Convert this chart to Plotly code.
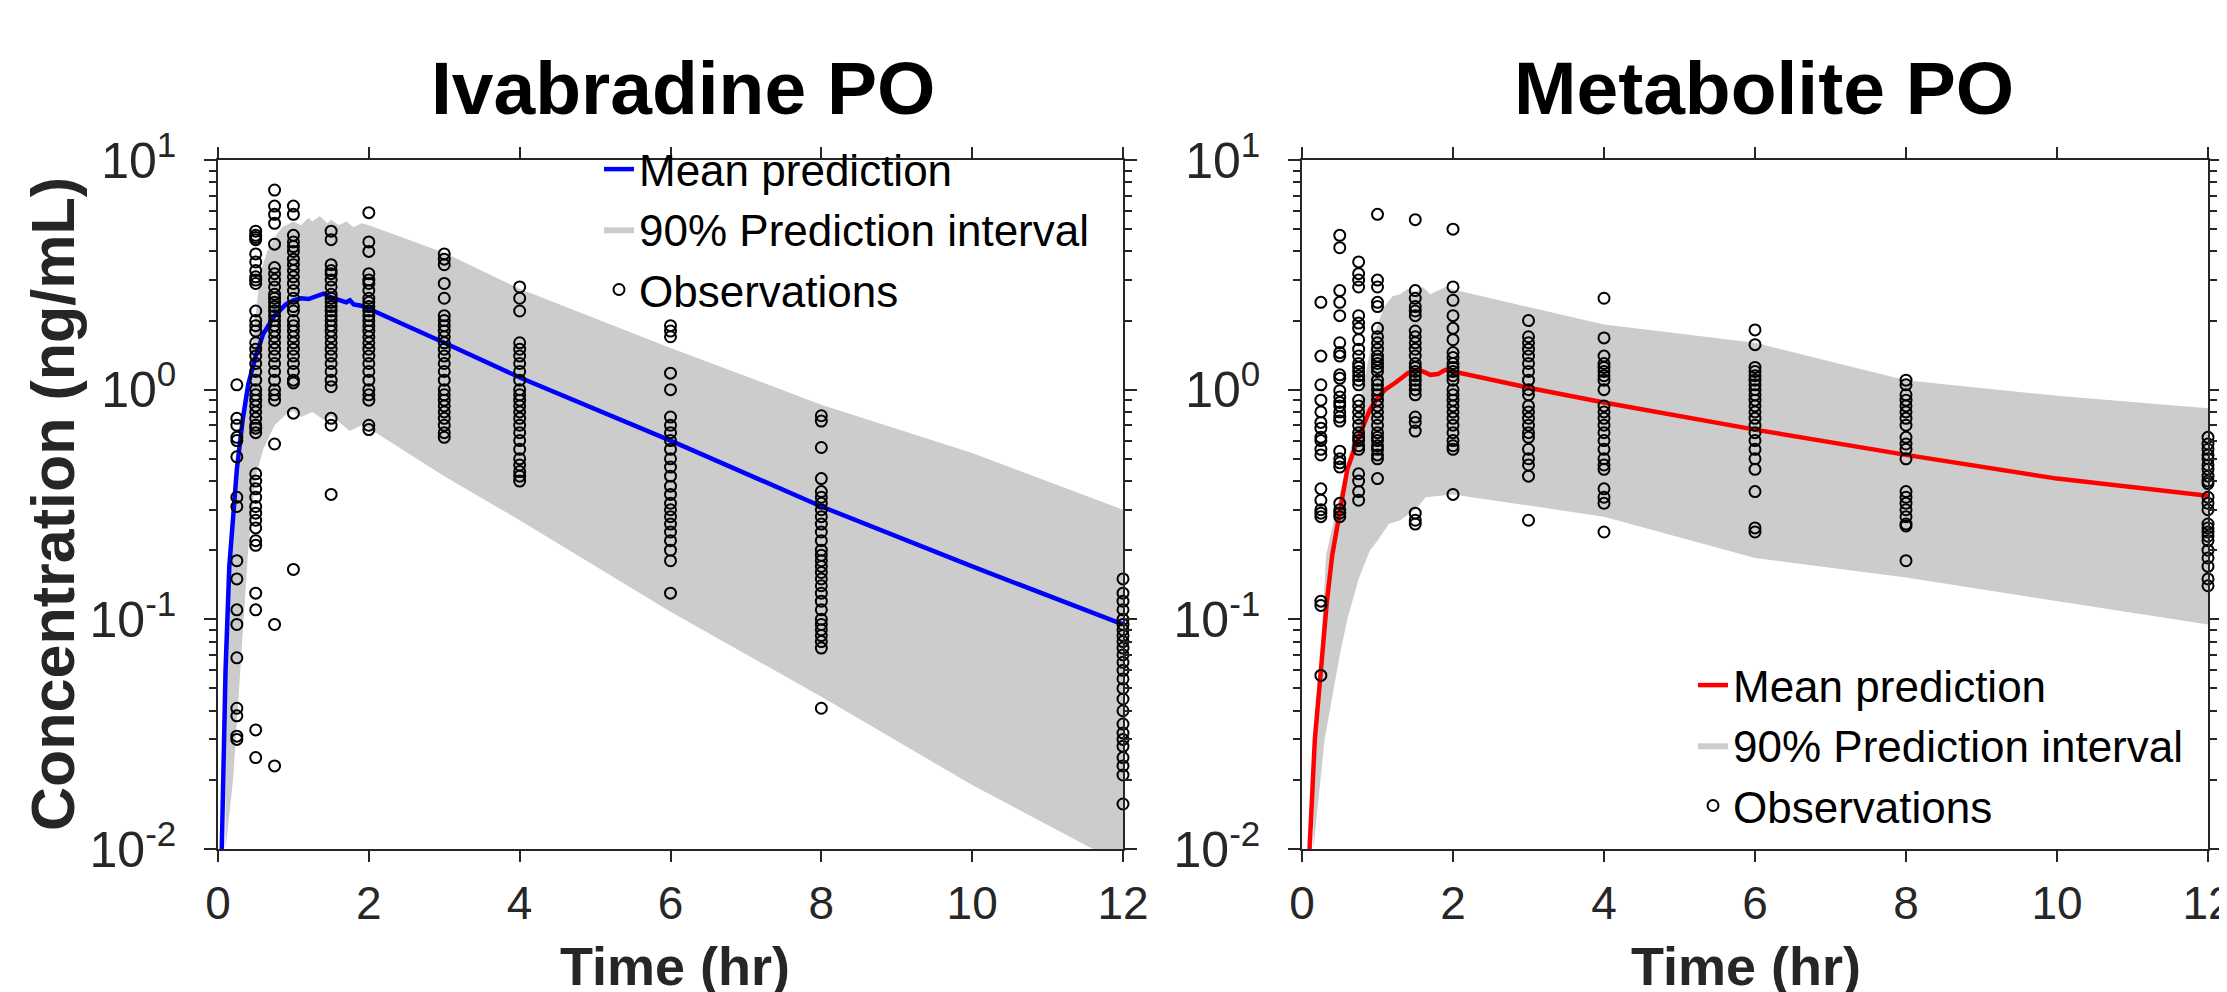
import plotly.graph_objects as go

# ---------------- data ----------------
OBS_TIMES = [0.25, 0.5, 0.75, 1.0, 1.5, 2.0, 3.0, 4.0, 6.0, 8.0, 12.0]

IVA_OBS_T0_25 = [1.05, 0.75, 0.70, 0.62, 0.60, 0.51, 0.34, 0.31, 0.18, 0.15, 0.11, 0.095, 0.068, 0.041, 0.038, 0.031, 0.030]
IVA_OBS_T0_5 = [4.9, 4.7, 4.6, 4.5, 3.9, 3.6, 3.3, 3.1, 3.0, 2.9, 2.2, 2.0, 1.9, 1.8, 1.6, 1.5, 1.4, 1.3, 1.2, 1.1, 1.0,
                0.95, 0.9, 0.85, 0.8, 0.75, 0.7, 0.68, 0.65, 0.43, 0.40, 0.37, 0.34, 0.31, 0.29, 0.27, 0.25, 0.22,
                0.21, 0.13, 0.11, 0.033, 0.025]
IVA_OBS_T0_75 = [7.4, 6.3, 5.8, 5.3, 4.3, 3.4, 3.2, 3.0, 2.8, 2.6, 2.5, 2.4, 2.3, 2.2, 2.1, 2.0, 1.9, 1.8, 1.7, 1.6,
                 1.5, 1.4, 1.3, 1.2, 1.1, 1.0, 0.95, 0.9, 0.58, 0.095, 0.023]
IVA_OBS_T1 = [6.3, 5.8, 4.7, 4.4, 4.2, 4.0, 3.7, 3.5, 3.3, 3.1, 2.9, 2.7, 2.5, 2.3, 2.2, 2.0, 1.9, 1.8, 1.7, 1.6,
              1.5, 1.4, 1.3, 1.2, 1.1, 1.07, 0.79, 0.165]
IVA_OBS_T1_5 = [4.9, 4.5, 3.5, 3.3, 3.2, 3.0, 2.8, 2.6, 2.5, 2.4, 2.3, 2.2, 2.1, 2.0, 1.9, 1.8, 1.7, 1.6, 1.5, 1.4,
                1.3, 1.2, 1.1, 1.03, 0.75, 0.70, 0.35]
IVA_OBS_T2 = [5.9, 4.4, 4.0, 3.2, 3.0, 2.9, 2.7, 2.5, 2.4, 2.3, 2.2, 2.1, 2.0, 1.9, 1.8, 1.7, 1.6, 1.5, 1.4, 1.3,
              1.2, 1.1, 1.0, 0.95, 0.9, 0.70, 0.67]
IVA_OBS_T3 = [3.9, 3.7, 3.5, 2.9, 2.5, 2.1, 2.0, 1.9, 1.8, 1.7, 1.6, 1.5, 1.4, 1.3, 1.2, 1.1, 1.0, 0.95, 0.9, 0.85,
              0.8, 0.75, 0.7, 0.65, 0.62]
IVA_OBS_T4 = [2.8, 2.5, 2.2, 1.6, 1.5, 1.4, 1.3, 1.2, 1.1, 1.0, 0.95, 0.9, 0.85, 0.8, 0.75, 0.7, 0.65, 0.6, 0.55,
              0.5, 0.47, 0.44, 0.42, 0.40]
IVA_OBS_T6 = [1.9, 1.8, 1.7, 1.18, 1.0, 0.76, 0.7, 0.65, 0.6, 0.55, 0.5, 0.46, 0.42, 0.38, 0.35, 0.32, 0.3, 0.28,
              0.26, 0.24, 0.22, 0.2, 0.18, 0.13]
IVA_OBS_T8 = [0.77, 0.73, 0.56, 0.41, 0.36, 0.34, 0.32, 0.3, 0.28, 0.26, 0.24, 0.22, 0.2, 0.19, 0.18, 0.17, 0.16,
              0.15, 0.14, 0.13, 0.12, 0.11, 0.1, 0.095, 0.09, 0.085, 0.08, 0.075, 0.041]
IVA_OBS_T12 = [0.15, 0.13, 0.12, 0.11, 0.1, 0.095, 0.09, 0.085, 0.08, 0.075, 0.07, 0.065, 0.06, 0.055, 0.05, 0.045,
               0.04, 0.035, 0.032, 0.03, 0.028, 0.025, 0.023, 0.021, 0.0157]

MET_OBS_T0_25 = [2.4, 1.4, 1.05, 0.9, 0.8, 0.72, 0.68, 0.62, 0.6, 0.55, 0.52, 0.37, 0.33, 0.3, 0.29, 0.28, 0.12,
                 0.115, 0.057]
MET_OBS_T0_5 = [4.7, 4.15, 2.7, 2.4, 2.1, 1.6, 1.45, 1.4, 1.16, 1.12, 0.99, 0.93, 0.88, 0.85, 0.8, 0.76, 0.73, 0.54,
                0.5, 0.48, 0.46, 0.32, 0.3, 0.29, 0.28]
MET_OBS_T0_75 = [3.6, 3.2, 3.0, 2.8, 2.1, 1.95, 1.85, 1.65, 1.5, 1.4, 1.3, 1.25, 1.2, 1.15, 1.1, 1.05, 0.9, 0.85,
                 0.8, 0.75, 0.7, 0.65, 0.62, 0.6, 0.57, 0.55, 0.43, 0.4, 0.36, 0.33]
MET_OBS_T1 = [5.8, 3.0, 2.8, 2.4, 2.3, 1.85, 1.7, 1.6, 1.5, 1.4, 1.35, 1.3, 1.25, 1.2, 1.1, 1.05, 1.0, 0.95, 0.9,
              0.85, 0.8, 0.75, 0.7, 0.65, 0.62, 0.6, 0.57, 0.55, 0.52, 0.5, 0.41]
MET_OBS_T1_5 = [5.5, 2.7, 2.5, 2.3, 2.2, 2.1, 1.8, 1.7, 1.6, 1.5, 1.4, 1.3, 1.25, 1.2, 1.15, 1.1, 1.05, 1.0, 0.95,
                0.76, 0.72, 0.66, 0.29, 0.27, 0.26]
MET_OBS_T2 = [5.0, 2.8, 2.45, 2.1, 1.85, 1.65, 1.45, 1.38, 1.3, 1.25, 1.2, 1.15, 1.1, 1.0, 0.95, 0.9, 0.85, 0.8,
              0.75, 0.7, 0.65, 0.6, 0.57, 0.55, 0.35]
MET_OBS_T3 = [2.0, 1.7, 1.6, 1.5, 1.4, 1.3, 1.2, 1.1, 1.0, 0.95, 0.85, 0.8, 0.75, 0.7, 0.65, 0.62, 0.55, 0.5, 0.47,
              0.42, 0.27]
MET_OBS_T4 = [2.5, 1.68, 1.4, 1.3, 1.25, 1.2, 1.15, 1.1, 1.0, 0.85, 0.8, 0.75, 0.7, 0.65, 0.6, 0.55, 0.5, 0.47,
              0.45, 0.37, 0.34, 0.32, 0.24]
MET_OBS_T6 = [1.82, 1.57, 1.25, 1.2, 1.15, 1.1, 1.05, 1.0, 0.95, 0.9, 0.85, 0.8, 0.75, 0.7, 0.65, 0.6, 0.55, 0.5,
              0.45, 0.36, 0.25, 0.24]
MET_OBS_T8 = [1.1, 1.05, 0.95, 0.9, 0.85, 0.8, 0.75, 0.7, 0.62, 0.58, 0.55, 0.5, 0.36, 0.34, 0.32, 0.3, 0.28, 0.26,
              0.255, 0.18]
MET_OBS_T12 = [0.62, 0.58, 0.55, 0.52, 0.5, 0.47, 0.45, 0.42, 0.4, 0.39, 0.34, 0.32, 0.3, 0.26, 0.25, 0.24, 0.23,
               0.22, 0.2, 0.185, 0.17, 0.15, 0.14]

# mean prediction curves
IVA_MEAN_T = [0.05, 0.1, 0.15, 0.2, 0.25, 0.33, 0.4, 0.5, 0.6, 0.75, 0.9, 1.0, 1.1, 1.2, 1.3, 1.4, 1.5, 1.6, 1.7,
              1.75, 1.8, 1.9, 2.0, 3.0, 4.0, 6.0, 8.0, 10.0, 12.0]
IVA_MEAN = [0.01, 0.06, 0.17, 0.3, 0.45, 0.75, 1.05, 1.4, 1.75, 2.1, 2.35, 2.45, 2.5, 2.48, 2.55, 2.62, 2.52, 2.45,
            2.40, 2.45, 2.35, 2.32, 2.25, 1.6, 1.13, 0.6, 0.31, 0.17, 0.095]
MET_MEAN_T = [0.1, 0.17, 0.25, 0.33, 0.4, 0.5, 0.6, 0.75, 0.9, 1.0, 1.1, 1.25, 1.4, 1.5, 1.6, 1.7, 1.8, 1.9, 2.0,
              3.0, 4.0, 6.0, 8.0, 10.0, 12.0]
MET_MEAN = [0.01, 0.03, 0.06, 0.12, 0.19, 0.3, 0.45, 0.62, 0.82, 0.92, 1.0, 1.08, 1.18, 1.22, 1.2, 1.16, 1.17, 1.22,
            1.2, 1.02, 0.88, 0.67, 0.52, 0.41, 0.345]

# 90% prediction interval bounds
IVA_PI_UP_T = [0.1, 0.2, 0.3, 0.39, 0.46, 0.56, 0.65, 0.77, 0.85, 1.0, 1.1, 1.2, 1.25, 1.35, 1.45, 1.5, 1.6, 1.7,
               1.8, 1.9, 2.0, 3.0, 4.0, 6.0, 8.0, 10.0, 12.0]
IVA_PI_UP = [0.05, 0.28, 0.6, 1.0, 1.63, 3.2, 4.0, 4.7, 5.1, 5.4, 5.2, 5.6, 5.4, 5.7, 5.3, 5.5, 5.2, 5.4, 5.1, 5.3,
             5.2, 3.95, 2.75, 1.52, 0.86, 0.53, 0.30]
IVA_PI_LO_T = [0.1, 0.2, 0.3, 0.4, 0.5, 0.6, 0.75, 0.9, 1.0, 1.1, 1.25, 1.4, 1.5, 1.6, 1.75, 1.9, 2.0, 3.0, 4.0,
               6.0, 8.0, 10.0, 11.6, 12.0]
IVA_PI_LO = [0.01, 0.02, 0.06, 0.2, 0.42, 0.55, 0.70, 0.78, 0.81, 0.76, 0.80, 0.74, 0.77, 0.72, 0.66, 0.70, 0.68,
             0.42, 0.27, 0.108, 0.046, 0.019, 0.01, 0.0085]

MET_PI_UP_T = [0.15, 0.32, 0.5, 0.68, 0.8, 0.93, 1.09, 1.2, 1.3, 1.4, 1.5, 1.6, 1.7, 1.8, 1.9, 2.0, 4.0, 6.0, 8.0,
               10.0, 12.0]
MET_PI_UP = [0.02, 0.19, 0.35, 0.62, 1.0, 1.65, 2.3, 2.55, 2.6, 2.75, 2.65, 2.8, 2.6, 2.7, 2.8, 2.73, 1.92, 1.6,
             1.1, 0.94, 0.83]
MET_PI_LO_T = [0.15, 0.3, 0.5, 0.6, 0.75, 0.9, 1.0, 1.15, 1.3, 1.5, 1.64, 2.0, 4.0, 6.0, 8.0, 10.0, 12.0]
MET_PI_LO = [0.01, 0.03, 0.07, 0.1, 0.15, 0.2, 0.22, 0.26, 0.27, 0.3, 0.34, 0.35, 0.28, 0.185, 0.152, 0.12, 0.095]

Y_TICK_VALS = [0.01, 0.1, 1, 10]
Y_TICK_TEXT = ["10<sup>-2</sup>", "10<sup>-1</sup>", "10<sup>0</sup>", "10<sup>1</sup>"]
Y_MINOR_VALS = [0.02, 0.03, 0.04, 0.05, 0.06, 0.07, 0.08, 0.09, 0.2, 0.3, 0.4, 0.5, 0.6, 0.7, 0.8, 0.9,
                2, 3, 4, 5, 6, 7, 8, 9]
X_TICK_VALS = [0, 2, 4, 6, 8, 10, 12]

IVA_OBS = [IVA_OBS_T0_25, IVA_OBS_T0_5, IVA_OBS_T0_75, IVA_OBS_T1, IVA_OBS_T1_5, IVA_OBS_T2, IVA_OBS_T3,
           IVA_OBS_T4, IVA_OBS_T6, IVA_OBS_T8, IVA_OBS_T12]
MET_OBS = [MET_OBS_T0_25, MET_OBS_T0_5, MET_OBS_T0_75, MET_OBS_T1, MET_OBS_T1_5, MET_OBS_T2, MET_OBS_T3,
           MET_OBS_T4, MET_OBS_T6, MET_OBS_T8, MET_OBS_T12]

# ---------------- figure ----------------
W, H = 2227, 992
FONT = "Liberation Sans, Arial, Helvetica, sans-serif"
AX_COLOR = "#262626"


def px_x(px):
    return px / W


def px_y(py):
    return 1 - py / H


def flatten(times, groups):
    xs, ys = [], []
    for t, vals in zip(times, groups):
        xs.extend([t] * len(vals))
        ys.extend(vals)
    return xs, ys


fig = go.Figure()

panels = [
    dict(xa="x", ya="y", legend="legend", mean_t=IVA_MEAN_T, mean=IVA_MEAN, color="#0000FF",
         up_t=IVA_PI_UP_T, up=IVA_PI_UP, lo_t=IVA_PI_LO_T, lo=IVA_PI_LO, obs=IVA_OBS),
    dict(xa="x2", ya="y2", legend="legend2", mean_t=MET_MEAN_T, mean=MET_MEAN, color="#FF0000",
         up_t=MET_PI_UP_T, up=MET_PI_UP, lo_t=MET_PI_LO_T, lo=MET_PI_LO, obs=MET_OBS),
]

for p in panels:
    band_x = list(p["up_t"]) + list(reversed(p["lo_t"]))
    band_y = list(p["up"]) + list(reversed(p["lo"]))
    fig.add_trace(go.Scatter(
        x=band_x, y=band_y, mode="lines", fill="toself", fillcolor="#CCCCCC",
        line=dict(width=0, color="#CCCCCC"), name="90% Prediction interval",
        xaxis=p["xa"], yaxis=p["ya"], legend=p["legend"], legendrank=2, hoverinfo="skip"))
    fig.add_trace(go.Scatter(
        x=p["mean_t"], y=p["mean"], mode="lines", line=dict(color=p["color"], width=4.5),
        name="Mean prediction", xaxis=p["xa"], yaxis=p["ya"], legend=p["legend"], legendrank=1))
    ox, oy = flatten(OBS_TIMES, p["obs"])
    fig.add_trace(go.Scatter(
        x=ox, y=oy, mode="markers", cliponaxis=False,
        marker=dict(symbol="circle-open", size=11, color="black", line=dict(width=2, color="black")),
        name="Observations", xaxis=p["xa"], yaxis=p["ya"], legend=p["legend"], legendrank=3))

common_x = dict(range=[0, 12], tickvals=X_TICK_VALS, ticks="outside", ticklen=11, tickwidth=1.5,
                tickcolor=AX_COLOR, showline=True, linecolor=AX_COLOR, linewidth=1.5, mirror="ticks",
                showgrid=False, zeroline=False, tickfont=dict(family=FONT, size=46, color=AX_COLOR),
                ticklabelstandoff=2, automargin=False)
common_y = dict(type="log", range=[-2, 1], tickvals=Y_TICK_VALS, ticktext=Y_TICK_TEXT, ticks="outside",
                ticklen=12, tickwidth=1.5, tickcolor=AX_COLOR, showline=True, linecolor=AX_COLOR,
                linewidth=1.5, mirror="ticks", showgrid=False, zeroline=False,
                tickfont=dict(family=FONT, size=50, color=AX_COLOR), ticklabelstandoff=18, automargin=False,
                minor=dict(tickmode="array", tickvals=Y_MINOR_VALS, ticks="outside", ticklen=7,
                           tickwidth=1.5, tickcolor=AX_COLOR, showgrid=False))

Y_DOM = [px_y(841), px_y(152)]
fig.update_layout(
    width=W, height=H, margin=dict(l=0, r=0, t=0, b=0),
    paper_bgcolor="white", plot_bgcolor="white",
    font=dict(family=FONT, color="black"),
    showlegend=True,
    xaxis=dict(domain=[px_x(210), px_x(1115)], anchor="y", **common_x),
    yaxis=dict(domain=Y_DOM, anchor="x", **common_y),
    xaxis2=dict(domain=[px_x(1294), px_x(2200)], anchor="y2", **common_x),
    yaxis2=dict(domain=Y_DOM, anchor="x2", **common_y),
    legend=dict(x=px_x(591), y=px_y(126), xanchor="left", yanchor="top", bgcolor="rgba(0,0,0,0)",
                font=dict(family=FONT, size=44, color="black"), traceorder="normal"),
    legend2=dict(x=px_x(1685), y=px_y(642), xanchor="left", yanchor="top", bgcolor="rgba(0,0,0,0)",
                 font=dict(family=FONT, size=44, color="black"), traceorder="normal"),
    annotations=[
        dict(text="<b>Ivabradine PO</b>", x=px_x(675), y=px_y(80), xref="paper", yref="paper",
             xanchor="center", yanchor="middle", showarrow=False, font=dict(family=FONT, size=75, color="black")),
        dict(text="<b>Metabolite PO</b>", x=px_x(1756), y=px_y(80), xref="paper", yref="paper",
             xanchor="center", yanchor="middle", showarrow=False, font=dict(family=FONT, size=75, color="black")),
        dict(text="<b>Concentration (ng/mL)</b>", x=px_x(45), y=px_y(496), xref="paper", yref="paper",
             xanchor="center", yanchor="middle", textangle=-90, showarrow=False,
             font=dict(family=FONT, size=61, color=AX_COLOR)),
        dict(text="<b>Time (hr)</b>", x=px_x(667), y=px_y(958), xref="paper", yref="paper",
             xanchor="center", yanchor="middle", showarrow=False, font=dict(family=FONT, size=54, color=AX_COLOR)),
        dict(text="<b>Time (hr)</b>", x=px_x(1738), y=px_y(958), xref="paper", yref="paper",
             xanchor="center", yanchor="middle", showarrow=False, font=dict(family=FONT, size=54, color=AX_COLOR)),
    ],
)

fig.write_html("out.html")
